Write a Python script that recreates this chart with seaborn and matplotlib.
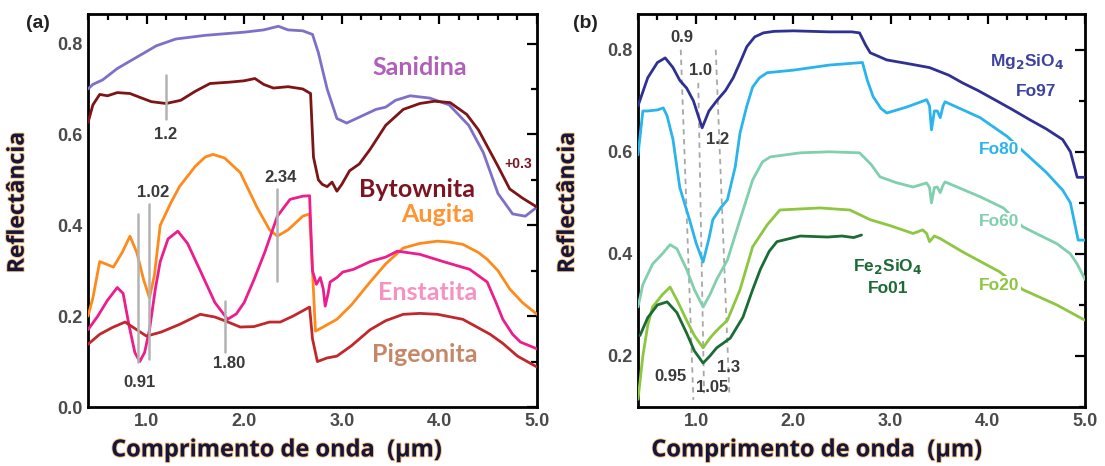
import numpy as np
import pandas as pd
import matplotlib
matplotlib.use("Agg")
import matplotlib.pyplot as plt
import matplotlib.patheffects as pe
from matplotlib.ticker import MultipleLocator
import seaborn as sns

# ---------------- Panel (a) data ----------------
wl_san = [0.40,0.45,0.55,0.70,0.90,1.10,1.30,1.60,2.00,2.20,2.35,2.45,2.60,2.70,2.76,2.85,2.95,3.05,3.20,3.35,3.45,3.55,3.70,3.90,4.10,4.30,4.45,4.60,4.75,4.88,5.00]
sanidina = [0.70,0.71,0.72,0.745,0.77,0.795,0.81,0.818,0.825,0.83,0.838,0.83,0.828,0.82,0.78,0.70,0.635,0.625,0.64,0.655,0.66,0.675,0.685,0.68,0.665,0.62,0.56,0.47,0.425,0.42,0.44]

wl_byt = [0.40,0.45,0.52,0.60,0.70,0.83,0.95,1.05,1.20,1.35,1.50,1.65,1.85,2.00,2.11,2.20,2.30,2.45,2.60,2.68,2.71,2.76,2.80,2.85,2.90,2.95,3.00,3.08,3.18,3.29,3.45,3.63,3.80,3.95,4.11,4.28,4.40,4.49,4.60,4.72,4.85,5.00]
bytownita = [0.626,0.665,0.688,0.685,0.692,0.69,0.68,0.672,0.668,0.675,0.695,0.712,0.715,0.718,0.723,0.71,0.702,0.705,0.70,0.69,0.55,0.50,0.49,0.485,0.495,0.475,0.49,0.52,0.535,0.567,0.62,0.655,0.668,0.673,0.67,0.644,0.61,0.574,0.53,0.48,0.46,0.44]

wl_aug = [0.40,0.45,0.52,0.58,0.66,0.75,0.83,0.90,0.97,1.03,1.08,1.14,1.25,1.34,1.50,1.60,1.68,1.80,1.96,2.13,2.26,2.34,2.45,2.60,2.67,2.70,2.73,2.80,2.95,3.10,3.29,3.45,3.63,3.80,3.98,4.10,4.24,4.40,4.49,4.60,4.72,4.85,5.00]
augita = [0.20,0.24,0.32,0.315,0.308,0.34,0.376,0.34,0.28,0.24,0.29,0.40,0.45,0.486,0.53,0.55,0.556,0.548,0.516,0.44,0.39,0.376,0.39,0.42,0.425,0.30,0.167,0.175,0.193,0.225,0.275,0.315,0.35,0.36,0.365,0.363,0.358,0.34,0.325,0.30,0.26,0.23,0.204]

wl_ens = [0.40,0.50,0.60,0.70,0.76,0.82,0.88,0.93,0.98,1.03,1.09,1.14,1.22,1.32,1.42,1.55,1.70,1.83,1.92,2.00,2.10,2.21,2.34,2.47,2.60,2.67,2.70,2.74,2.78,2.81,2.83,2.86,2.88,2.95,3.01,3.12,3.29,3.45,3.57,3.80,4.04,4.31,4.49,4.58,4.65,4.75,4.83,5.00]
enstatita = [0.17,0.20,0.235,0.263,0.25,0.18,0.12,0.10,0.12,0.17,0.26,0.32,0.37,0.387,0.36,0.30,0.23,0.193,0.205,0.23,0.28,0.34,0.42,0.457,0.464,0.465,0.30,0.27,0.285,0.26,0.222,0.25,0.275,0.285,0.297,0.303,0.32,0.33,0.343,0.336,0.32,0.303,0.275,0.23,0.193,0.16,0.143,0.128]

wl_pig = [0.40,0.52,0.65,0.78,0.90,1.00,1.15,1.34,1.55,1.70,1.80,1.96,2.10,2.26,2.37,2.50,2.67,2.70,2.75,2.85,2.95,3.10,3.29,3.45,3.63,3.80,3.98,4.24,4.52,4.65,4.80,5.00]
pigeonita = [0.138,0.16,0.175,0.187,0.17,0.156,0.165,0.182,0.204,0.198,0.19,0.176,0.177,0.187,0.187,0.20,0.22,0.15,0.10,0.108,0.112,0.135,0.17,0.19,0.204,0.206,0.204,0.193,0.16,0.14,0.112,0.088]

# band markers (a): position, y-start, y-end, label
marks_a_pos = [0.91, 1.02, 1.2, 1.80, 2.34]
marks_a_ylo = [0.10, 0.105, 0.633, 0.12, 0.277]
marks_a_yhi = [0.424, 0.446, 0.73, 0.233, 0.48]
marks_a_lbl = ["0.91", "1.02", "1.2", "1.80", "2.34"]
marks_a_lx = [0.93, 1.07, 1.19, 1.85, 2.37]
marks_a_ly = [0.053, 0.473, 0.60, 0.095, 0.506]

# ---------------- Panel (b) data ----------------
wl_fo97 = [0.40,0.50,0.60,0.68,0.76,0.83,0.90,0.97,1.06,1.13,1.21,1.30,1.38,1.45,1.52,1.60,1.69,1.80,2.00,2.37,2.60,2.68,2.74,2.79,2.96,3.20,3.40,3.60,3.74,3.90,4.09,4.25,4.43,4.60,4.77,4.85,4.92,5.00]
fo97 = [0.69,0.745,0.775,0.784,0.765,0.74,0.725,0.70,0.647,0.68,0.70,0.72,0.745,0.775,0.806,0.825,0.833,0.836,0.837,0.835,0.835,0.833,0.81,0.794,0.78,0.772,0.765,0.75,0.735,0.72,0.70,0.683,0.663,0.645,0.624,0.60,0.55,0.55]

wl_fo80 = [0.40,0.45,0.50,0.60,0.66,0.70,0.76,0.83,0.93,1.00,1.07,1.13,1.17,1.25,1.32,1.40,1.45,1.52,1.58,1.65,1.73,2.00,2.37,2.71,2.76,2.82,2.90,2.96,3.17,3.37,3.40,3.42,3.45,3.48,3.51,3.54,3.56,3.92,4.20,4.38,4.60,4.77,4.85,4.93,5.00]
fo80 = [0.594,0.68,0.68,0.682,0.686,0.67,0.624,0.53,0.467,0.42,0.384,0.43,0.467,0.49,0.506,0.57,0.637,0.69,0.727,0.745,0.755,0.76,0.77,0.775,0.74,0.708,0.685,0.676,0.688,0.702,0.69,0.643,0.68,0.68,0.667,0.69,0.698,0.667,0.63,0.598,0.56,0.525,0.50,0.427,0.427]

wl_fo60 = [0.40,0.45,0.55,0.65,0.73,0.80,0.90,0.98,1.07,1.14,1.21,1.32,1.45,1.58,1.68,1.76,2.07,2.37,2.68,2.80,2.89,3.05,3.23,3.37,3.40,3.42,3.45,3.48,3.51,3.54,3.56,3.92,4.16,4.36,4.55,4.71,4.85,4.92,5.00]
fo60 = [0.296,0.34,0.38,0.40,0.418,0.41,0.37,0.33,0.296,0.32,0.35,0.388,0.467,0.545,0.58,0.59,0.598,0.60,0.598,0.575,0.551,0.54,0.531,0.539,0.53,0.50,0.53,0.531,0.52,0.535,0.541,0.512,0.49,0.453,0.435,0.42,0.40,0.38,0.35]

wl_fo20 = [0.40,0.45,0.50,0.55,0.65,0.73,0.80,0.90,0.98,1.07,1.14,1.21,1.32,1.45,1.58,1.73,1.86,2.27,2.58,2.79,3.00,3.23,3.33,3.37,3.40,3.45,3.51,3.74,4.12,4.36,4.71,5.00]
fo20 = [0.115,0.20,0.26,0.296,0.32,0.335,0.31,0.27,0.24,0.216,0.235,0.25,0.27,0.33,0.414,0.457,0.486,0.49,0.486,0.467,0.455,0.44,0.447,0.44,0.424,0.435,0.43,0.404,0.365,0.33,0.30,0.27]

wl_fo01 = [0.42,0.50,0.60,0.70,0.80,0.90,0.98,1.07,1.14,1.21,1.35,1.48,1.58,1.66,1.75,1.83,2.07,2.35,2.50,2.62,2.70]
fo01 = [0.24,0.275,0.30,0.306,0.285,0.245,0.21,0.186,0.20,0.216,0.235,0.276,0.33,0.37,0.405,0.424,0.435,0.433,0.435,0.432,0.437]

# dashed band guides (b)
guide_x_top = [0.84, 1.02, 1.20]
guide_x_bot = [0.97, 1.08, 1.34]
guide_y_top = [0.80, 0.735, 0.80]
guide_y_bot = [0.114, 0.127, 0.127]
guide_lbl_top = ["0.9", "1.0", "1.2"]
guide_lbl_top_x = [0.85, 1.04, 1.22]
guide_lbl_top_y = [0.824, 0.759, 0.624]
guide_lbl_bot = ["0.95", "1.05", "1.3"]
guide_lbl_bot_x = [0.73, 1.16, 1.33]
guide_lbl_bot_y = [0.159, 0.139, 0.178]

x_ticks = [1.0, 2.0, 3.0, 4.0, 5.0]
x_ticklabels = ["1.0", "2.0", "3.0", "4.0", "5.0"]
ya_ticks = [0.0, 0.2, 0.4, 0.6, 0.8]
yb_ticks = [0.2, 0.4, 0.6, 0.8]

# ---------------- Style ----------------
sns.set_theme(style="white")
plt.rcParams['font.family'] = ['Liberation Sans', 'DejaVu Sans']

fig = plt.figure(figsize=(11.05, 4.66), dpi=100)
axA = fig.add_axes([88/1105, 1-407/466, 449/1105, 393/466])
axB = fig.add_axes([638/1105, 1-407/466, 447/1105, 393/466])

def draw(ax, x, y, color, lw=2.0):
    df = pd.DataFrame({"x": x, "y": y})
    sns.lineplot(data=df, x="x", y="y", ax=ax, color=color, lw=lw, sort=False,
                 estimator=None, zorder=3)

# panel (a)
for x, y, c in [(wl_san, sanidina, "#7d70c8"), (wl_byt, bytownita, "#7d1416"),
                (wl_aug, augita, "#ff8a1c"), (wl_ens, enstatita, "#ec1d8c"),
                (wl_pig, pigeonita, "#c0282d")]:
    draw(axA, x, y, c)

for p, lo, hi in zip(marks_a_pos, marks_a_ylo, marks_a_yhi):
    axA.plot([p, p], [lo, hi], color="#b3b3b3", lw=1.8, zorder=4)
for t, lx, ly in zip(marks_a_lbl, marks_a_lx, marks_a_ly):
    axA.text(lx, ly, t, ha="center", va="center", fontsize=12, fontweight="bold",
             color="#3a3a3a", zorder=5)

lab_font = ['Lato', 'DejaVu Sans']
lab_size = 18
axA.text(3.80, 0.747, "Sanidina", color="#b060b8", fontsize=lab_size, fontweight="bold",
         ha="center", va="center", family=lab_font)
axA.text(3.77, 0.479, "Bytownita", color="#7d1422", fontsize=lab_size, fontweight="bold",
         ha="center", va="center", family=lab_font)
axA.text(3.98, 0.424, "Augita", color="#ff9433", fontsize=lab_size, fontweight="bold",
         ha="center", va="center", family=lab_font)
axA.text(3.88, 0.253, "Enstatita", color="#f592c2", fontsize=lab_size, fontweight="bold",
         ha="center", va="center", family=lab_font)
axA.text(3.85, 0.116, "Pigeonita", color="#c48868", fontsize=lab_size, fontweight="bold",
         ha="center", va="center", family=lab_font)
axA.text(4.81, 0.534, "+0.3", color="#7d1422", fontsize=10, fontweight="bold",
         ha="center", va="center")

# panel (b)
for x, y, c in [(wl_fo97, fo97, "#2e3192"), (wl_fo80, fo80, "#2ab4ec"),
                (wl_fo60, fo60, "#80cfad"), (wl_fo20, fo20, "#8dc63f"),
                (wl_fo01, fo01, "#1b6b35")]:
    draw(axB, x, y, c)

for xt, xb, yt, yb in zip(guide_x_top, guide_x_bot, guide_y_top, guide_y_bot):
    axB.plot([xt, xb], [yt, yb], color="#a8a8a8", lw=1.3, ls=(0, (3, 2.5)), zorder=2)
for t, lx, ly in zip(guide_lbl_top + guide_lbl_bot, guide_lbl_top_x + guide_lbl_bot_x,
                     guide_lbl_top_y + guide_lbl_bot_y):
    axB.text(lx, ly, t, ha="center", va="center", fontsize=12, fontweight="bold",
             color="#3a3a3a", zorder=5)

box = dict(facecolor="white", edgecolor="none", pad=1.0)
axB.text(4.40, 0.776, "Mg$_\\mathbf{2}$SiO$_\\mathbf{4}$", color="#3d429e", fontsize=12.5,
         fontweight="bold", ha="center", va="center")
axB.text(4.50, 0.718, "Fo97", color="#3d429e", fontsize=12.5, fontweight="bold",
         ha="center", va="center")
axB.text(4.12, 0.604, "Fo80", color="#2ab4ec", fontsize=12.5, fontweight="bold",
         ha="center", va="center", bbox=box, zorder=6)
axB.text(4.12, 0.463, "Fo60", color="#80cfad", fontsize=12.5, fontweight="bold",
         ha="center", va="center", bbox=box, zorder=6)
axB.text(4.12, 0.339, "Fo20", color="#8dc63f", fontsize=12.5, fontweight="bold",
         ha="center", va="center", bbox=box, zorder=6)
axB.text(2.97, 0.375, "Fe$_\\mathbf{2}$SiO$_\\mathbf{4}$", color="#1b6b35", fontsize=12.5,
         fontweight="bold", ha="center", va="center")
axB.text(2.97, 0.333, "Fo01", color="#1b6b35", fontsize=12.5, fontweight="bold",
         ha="center", va="center")

axis_font = ['Open Sans', 'DejaVu Sans']
glow = [pe.withStroke(linewidth=1.4, foreground="#f5b060", alpha=0.75)]
for ax, ylim, yt, xlab_x in [(axA, (0.0, 0.865), ya_ticks, 0.42), (axB, (0.1, 0.87), yb_ticks, 0.40)]:
    ax.set_xlim(0.4, 5.0)
    ax.set_ylim(*ylim)
    ax.set_xticks(x_ticks)
    ax.set_xticklabels(x_ticklabels)
    ax.set_yticks(yt)
    ax.set_yticklabels([f"{v:.1f}" for v in yt])
    ax.xaxis.set_minor_locator(MultipleLocator(0.2))
    ax.yaxis.set_minor_locator(MultipleLocator(0.1))
    ax.tick_params(which="both", direction="in", top=True, right=True, width=1.6,
                   color="black")
    ax.tick_params(which="major", length=7, labelsize=13, labelcolor="#4a4a4a", pad=4)
    ax.tick_params(which="minor", length=4)
    for lbl in ax.get_xticklabels() + ax.get_yticklabels():
        lbl.set_fontweight("bold")
    for s in ax.spines.values():
        s.set_linewidth(2.0)
        s.set_color("black")
        s.set_visible(True)
    ax.set_xlabel("Comprimento de onda  (µm)", fontsize=17, fontweight="bold",
                  color="#14163c", family=axis_font, path_effects=glow)
    ax.set_ylabel("Reflectância", fontsize=16.5, fontweight="bold",
                  color="#14163c", family=axis_font, path_effects=glow)
    ax.xaxis.set_label_coords(xlab_x, -0.08)
    ax.yaxis.set_label_coords(-0.13, 0.52)

fig.text(38/1105, 1-23/466, "(a)", fontsize=14, fontweight="bold", color="#222",
         ha="center", va="center")
fig.text(585/1105, 1-23/466, "(b)", fontsize=14, fontweight="bold", color="#222",
         ha="center", va="center")

fig.savefig("out.png", dpi=100, facecolor="white")
